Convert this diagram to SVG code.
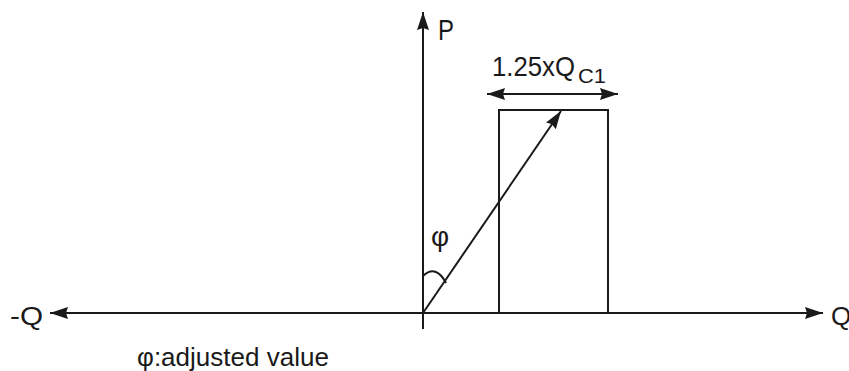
<svg xmlns="http://www.w3.org/2000/svg" width="849" height="371" viewBox="0 0 849 371">
<style>
.ln{stroke:#1a1a1a;stroke-width:2;fill:none}
.tx{font-family:"Liberation Sans",Arial,sans-serif;fill:#1a1a1a}
</style>
<defs>
<marker id="ah" viewBox="0 0 18 12" refX="18" refY="6" markerWidth="18" markerHeight="12" markerUnits="userSpaceOnUse" orient="auto-start-reverse">
<path d="M0,0 L18,6 L0,12 L2,6 Z" fill="#1a1a1a"/>
</marker>
</defs>
<rect width="849" height="371" fill="#fff"/>
<g id="connectors">
<line id="q-axis" class="ln" x1="50" y1="313" x2="823" y2="313" marker-start="url(#ah)" marker-end="url(#ah)"/>
<line id="p-axis" class="ln" x1="423" y1="329" x2="423" y2="12" marker-end="url(#ah)"/>
<line id="vector" class="ln" x1="423" y1="313" x2="561" y2="111" marker-end="url(#ah)"/>
<line id="width-arrow" class="ln" x1="487" y1="94" x2="618" y2="94" marker-start="url(#ah)" marker-end="url(#ah)"/>
<path id="angle-arc" class="ln" d="M423,276 Q436,264 446,283"/>
</g>
<g id="range-box">
<rect class="ln" x="499" y="110" width="109" height="203"/>
</g>
<g id="labels">
<text class="tx" x="438" y="40" font-size="30" textLength="16" lengthAdjust="spacingAndGlyphs">P</text>
<text class="tx" x="492" y="76" font-size="28" textLength="83" lengthAdjust="spacingAndGlyphs">1.25xQ</text>
<text class="tx" x="578" y="83" font-size="20" textLength="28" lengthAdjust="spacingAndGlyphs">C1</text>
<text class="tx" x="431" y="246" font-size="28">φ</text>
<text class="tx" x="10" y="325" font-size="26" textLength="33" lengthAdjust="spacingAndGlyphs">-Q</text>
<text class="tx" x="831" y="325" font-size="26">Q</text>
<text class="tx" x="137" y="366" font-size="26" textLength="192" lengthAdjust="spacingAndGlyphs">φ:adjusted value</text>
</g>
</svg>
